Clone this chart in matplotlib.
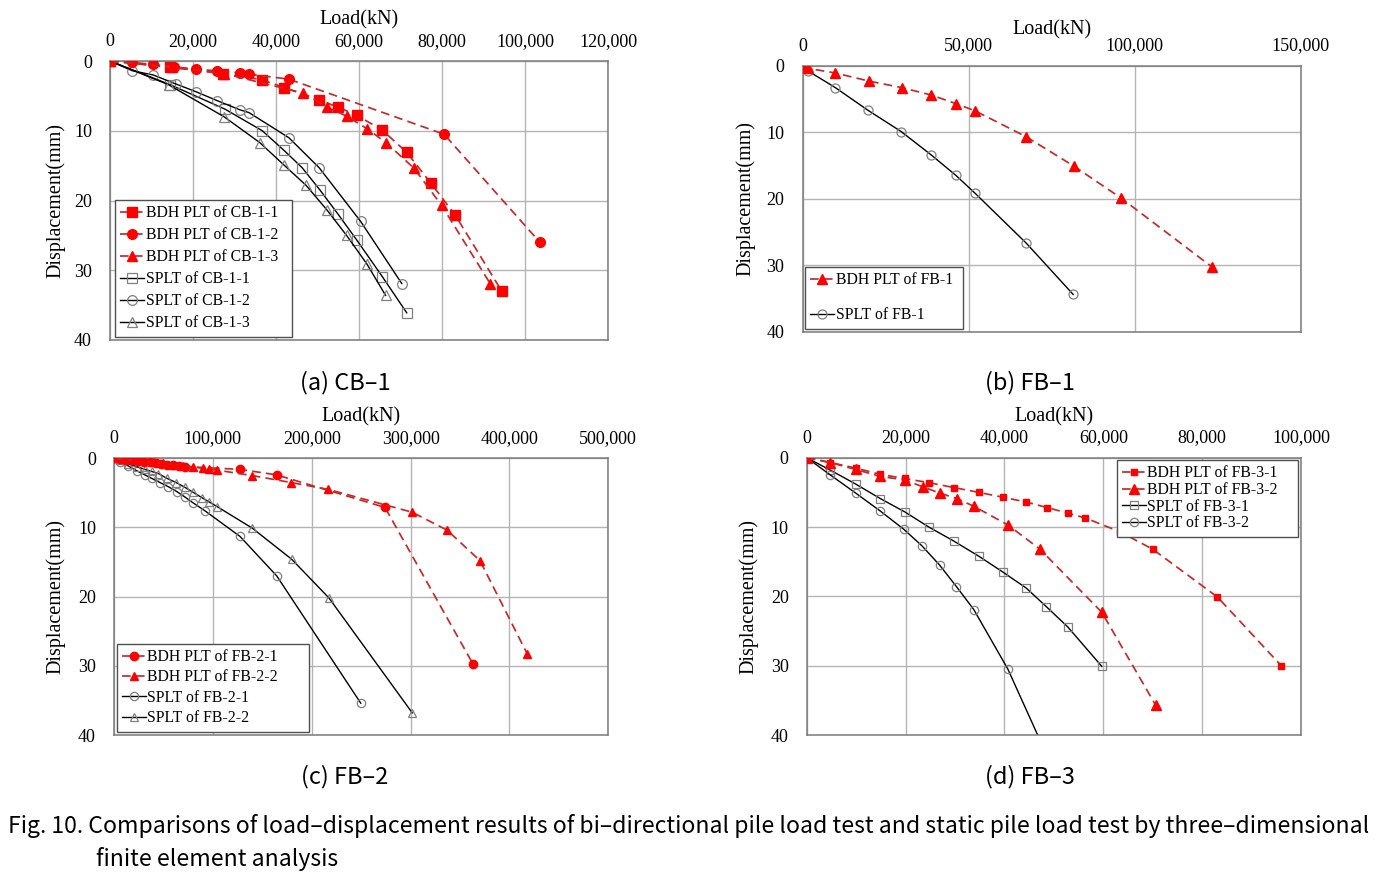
import matplotlib
matplotlib.use('Agg')
import matplotlib.pyplot as plt
from matplotlib.ticker import FuncFormatter, MultipleLocator

# (a) CB-1
cb1_bdh1_load = [0, 14500, 27300, 36700, 41900, 50400, 54900, 59500, 65600, 71500, 77300, 83200, 94400]
cb1_bdh1_disp = [0, 0.9, 1.8, 2.7, 3.8, 5.6, 6.6, 7.8, 9.9, 13.1, 17.5, 22.1, 33.0]
cb1_bdh2_load = [0, 5400, 10400, 15400, 20700, 25900, 31300, 33500, 43100, 80500, 103600]
cb1_bdh2_disp = [0, 0.2, 0.5, 0.8, 1.2, 1.4, 1.7, 1.9, 2.6, 10.5, 26.0]
cb1_bdh3_load = [0, 14900, 27500, 46600, 52200, 57000, 61900, 66500, 73300, 79900, 91600]
cb1_bdh3_disp = [0, 0.9, 1.8, 4.6, 6.6, 7.9, 9.7, 11.7, 15.4, 20.7, 31.9]
cb1_sp1_load = [0, 14500, 27700, 36700, 41900, 46300, 50600, 55000, 59500, 65600, 71500]
cb1_sp1_disp = [0, 3.4, 6.9, 10.0, 12.8, 15.3, 18.5, 22.0, 25.7, 30.9, 36.1]
cb1_sp2_load = [0, 5400, 10400, 15900, 20700, 25900, 31300, 33500, 43100, 50400, 60400, 70300]
cb1_sp2_disp = [0, 1.4, 2.0, 3.3, 4.4, 5.7, 7.0, 7.4, 11.0, 15.3, 23.0, 31.9]
cb1_sp3_load = [0, 14100, 27500, 36100, 41900, 47200, 52200, 57000, 61900, 66400]
cb1_sp3_disp = [0, 3.4, 8.0, 11.7, 14.9, 17.8, 21.3, 25.0, 29.1, 33.6]

# (b) FB-1
fb1_bdh_load = [0, 1700, 9900, 19900, 29900, 38700, 46200, 52000, 67400, 81700, 95900, 123400]
fb1_bdh_disp = [0, 0.4, 1.1, 2.3, 3.3, 4.4, 5.7, 6.8, 10.7, 15.1, 19.9, 30.3]
fb1_sp_load = [0, 1700, 9900, 19700, 29700, 38700, 46200, 52000, 67400, 81500]
fb1_sp_disp = [0, 0.8, 3.3, 6.7, 9.9, 13.4, 16.5, 19.2, 26.7, 34.4]

# (c) FB-2
fb2_bdh1_load = [0, 6000, 12000, 18000, 24000, 30000, 36000, 42000, 48000, 54000, 60000, 66000, 72000,
                 127500, 164600, 274100, 363400]
fb2_bdh1_disp = [0, 0.1, 0.2, 0.3, 0.4, 0.5, 0.6, 0.7, 0.8, 0.9, 1.0, 1.1, 1.2, 1.6, 2.4, 7.1, 29.8]
fb2_bdh2_load = [0, 10000, 20000, 30000, 40000, 50000, 60000, 70000, 80000, 90000, 96000, 103900,
                 139900, 179000, 216800, 301700, 337100, 370200, 418100]
fb2_bdh2_disp = [0, 0.15, 0.3, 0.45, 0.6, 0.75, 0.9, 1.05, 1.25, 1.45, 1.6, 1.7, 2.5, 3.5, 4.5,
                 7.8, 10.4, 14.8, 28.3]
fb2_sp1_load = [0, 6100, 14500, 23000, 31400, 38100, 46500, 54900, 63400, 71800, 79600, 92100,
                127500, 164600, 249600]
fb2_sp1_disp = [0, 0.5, 1.1, 1.8, 2.4, 2.9, 3.5, 4.1, 4.8, 5.6, 6.4, 7.6, 11.3, 17.0, 35.4]
fb2_sp2_load = [0, 6100, 14500, 23000, 31400, 38100, 44800, 53600, 62700, 71800, 79900, 89000,
                96100, 104500, 139900, 179800, 217500, 301700]
fb2_sp2_disp = [0, 0.3, 0.8, 1.2, 1.6, 1.9, 2.2, 2.9, 3.5, 4.2, 4.9, 5.7, 6.3, 7.0, 10.1, 14.6,
                20.2, 36.8]

# (d) FB-3
fb3_bdh1_load = [0, 4800, 9900, 14900, 19800, 24700, 29700, 34800, 39700, 44400, 48700, 52800,
                 56400, 63400, 70000, 83100, 96000]
fb3_bdh1_disp = [0, 0.7, 1.5, 2.4, 3.0, 3.6, 4.3, 5.0, 5.7, 6.4, 7.2, 8.0, 8.7, 10.7, 13.2, 20.1, 30.0]
fb3_bdh2_load = [0, 4800, 9900, 14900, 19800, 23500, 26900, 30400, 33800, 40700, 47200, 59700, 70600]
fb3_bdh2_disp = [0, 0.7, 1.7, 2.7, 3.2, 4.2, 5.1, 5.9, 7.0, 9.7, 13.2, 22.3, 35.7]
fb3_sp1_load = [0, 4800, 9900, 14900, 19800, 24700, 29700, 34800, 39700, 44400, 48500, 52800, 59700]
fb3_sp1_disp = [0, 1.8, 3.8, 5.9, 7.8, 10.0, 12.0, 14.2, 16.5, 18.8, 21.5, 24.4, 30.1]
fb3_sp2_load = [0, 4800, 9900, 14900, 19600, 23300, 26900, 30300, 33800, 40700, 49900]
fb3_sp2_disp = [0, 2.5, 5.1, 7.7, 10.3, 12.7, 15.5, 18.6, 21.9, 30.5, 45.0]

panel_titles = ['(a) CB–1', '(b) FB–1', '(c) FB–2', '(d) FB–3']
caption_1 = ('Fig. 10. Comparisons of load–displacement results of bi–directional pile load test '
             'and static pile load test by three–dimensional')
caption_2 = 'finite element analysis'

RED_LINE = '#C42A2A'
RED = '#FF0000'
GRAY = '#808080'

plt.rcParams['font.family'] = ['Liberation Serif', 'DejaVu Serif']


def bdh(ax, x, y, label, marker, ms):
    ax.plot(x, y, color=RED_LINE, lw=1.25, ls=(0, (5, 3)), marker=marker, ms=ms,
            markerfacecolor=RED, markeredgecolor=RED, label=label, zorder=3)


def splt(ax, x, y, label, marker, ms):
    ax.plot(x, y, color='black', lw=1.0, marker=marker, ms=ms,
            markerfacecolor='none', markeredgecolor=GRAY, markeredgewidth=0.9,
            label=label, zorder=2)


def setup(ax, xmax, xstep, ylab_x, xlab_pad):
    ax.set_xlim(0, xmax)
    ax.set_ylim(40, 0)
    ax.xaxis.set_major_locator(MultipleLocator(xstep))
    ax.yaxis.set_major_locator(MultipleLocator(10))
    ax.xaxis.set_major_formatter(FuncFormatter(lambda v, p: f'{v:,.0f}'))
    ax.xaxis.tick_top()
    ax.xaxis.set_label_position('top')
    ax.tick_params(length=0, labelsize=13)
    ax.tick_params(axis='x', pad=8)
    ax.tick_params(axis='y', pad=13)
    ax.grid(True, color='#B4B4B4', lw=1.0)
    ax.set_axisbelow(True)
    for s in ax.spines.values():
        s.set_color('#7A7A7A')
        s.set_linewidth(1.1)
    ax.set_xlabel('Load(kN)', fontsize=14.5, labelpad=xlab_pad)
    ax.set_ylabel('Displacement(mm)', fontsize=14.5)
    ax.yaxis.set_label_coords(ylab_x, 0.5)


def legend(ax, anchor, loc, spacing):
    # anchor = (x0, y0, width, 0) in axes fraction; box stretched to the given width
    leg = ax.legend(loc=loc, bbox_to_anchor=anchor, mode='expand', fontsize=11.3,
                    fancybox=False, framealpha=1, edgecolor='#505050', handlelength=1.5,
                    handletextpad=0.1, labelspacing=spacing, borderpad=0.35,
                    borderaxespad=0)
    leg.get_frame().set_linewidth(1.0)


def main():
    fig = plt.figure(figsize=(13.89, 8.75), dpi=100)
    W, H = 1389, 875

    def box(l, t, r, b):
        return [l / W, 1 - b / H, (r - l) / W, (b - t) / H]

    ax_a = fig.add_axes(box(110, 61, 608, 340))
    ax_b = fig.add_axes(box(802.5, 65.7, 1300.7, 331.7))
    ax_c = fig.add_axes(box(114, 458.3, 608.3, 735))
    ax_d = fig.add_axes(box(806.7, 457.7, 1301, 735))

    # (a)
    bdh(ax_a, cb1_bdh1_load, cb1_bdh1_disp, 'BDH PLT of CB-1-1', 's', 7)
    bdh(ax_a, cb1_bdh2_load, cb1_bdh2_disp, 'BDH PLT of CB-1-2', 'o', 7)
    bdh(ax_a, cb1_bdh3_load, cb1_bdh3_disp, 'BDH PLT of CB-1-3', '^', 7)
    splt(ax_a, cb1_sp1_load, cb1_sp1_disp, 'SPLT of CB-1-1', 's', 7)
    splt(ax_a, cb1_sp2_load, cb1_sp2_disp, 'SPLT of CB-1-2', 'o', 7)
    splt(ax_a, cb1_sp3_load, cb1_sp3_disp, 'SPLT of CB-1-3', '^', 7)
    setup(ax_a, 120000, 20000, -0.09, 6)
    legend(ax_a, (0.01, 0.012, 0.355, 0), 'lower left', 0.38)

    # (b)
    bdh(ax_b, fb1_bdh_load, fb1_bdh_disp, 'BDH PLT of FB-1', '^', 6.5)
    splt(ax_b, fb1_sp_load, fb1_sp_disp, 'SPLT of FB-1', 'o', 6.5)
    setup(ax_b, 150000, 50000, -0.095, 2)
    legend(ax_b, (0.005, 0.012, 0.317, 0), 'lower left', 1.2)

    # (c)
    bdh(ax_c, fb2_bdh1_load, fb2_bdh1_disp, 'BDH PLT of FB-2-1', 'o', 6)
    bdh(ax_c, fb2_bdh2_load, fb2_bdh2_disp, 'BDH PLT of FB-2-2', '^', 6)
    splt(ax_c, fb2_sp1_load, fb2_sp1_disp, 'SPLT of FB-2-1', 'o', 6)
    splt(ax_c, fb2_sp2_load, fb2_sp2_disp, 'SPLT of FB-2-2', '^', 6)
    setup(ax_c, 500000, 100000, -0.099, 6)
    legend(ax_c, (0.0055, 0.012, 0.388, 0), 'lower left', 0.28)

    # (d)
    bdh(ax_d, fb3_bdh1_load, fb3_bdh1_disp, 'BDH PLT of FB-3-1', 's', 5)
    bdh(ax_d, fb3_bdh2_load, fb3_bdh2_disp, 'BDH PLT of FB-3-2', '^', 6.5)
    splt(ax_d, fb3_sp1_load, fb3_sp1_disp, 'SPLT of FB-3-1', 's', 6)
    splt(ax_d, fb3_sp2_load, fb3_sp2_disp, 'SPLT of FB-3-2', 'o', 6)
    setup(ax_d, 100000, 20000, -0.0986, 6)
    legend(ax_d, (0.627, 0.992, 0.367, 0), 'upper left', 0.04)

    cjk = ['Noto Sans CJK KR', 'DejaVu Sans']
    for (x, y), t in zip([(345, 383), (1030, 383), (345, 777), (1030, 777)], panel_titles):
        fig.text(x / W, 1 - y / H, t, ha='center', va='center', fontsize=17, family=cjk)
    fig.text(8 / W, 1 - 826 / H, caption_1, ha='left', va='center', fontsize=16.6, family=cjk)
    fig.text(96 / W, 1 - 859 / H, caption_2, ha='left', va='center', fontsize=16.6, family=cjk)

    fig.savefig('out.png', dpi=100)


if __name__ == "__main__":
    main()
